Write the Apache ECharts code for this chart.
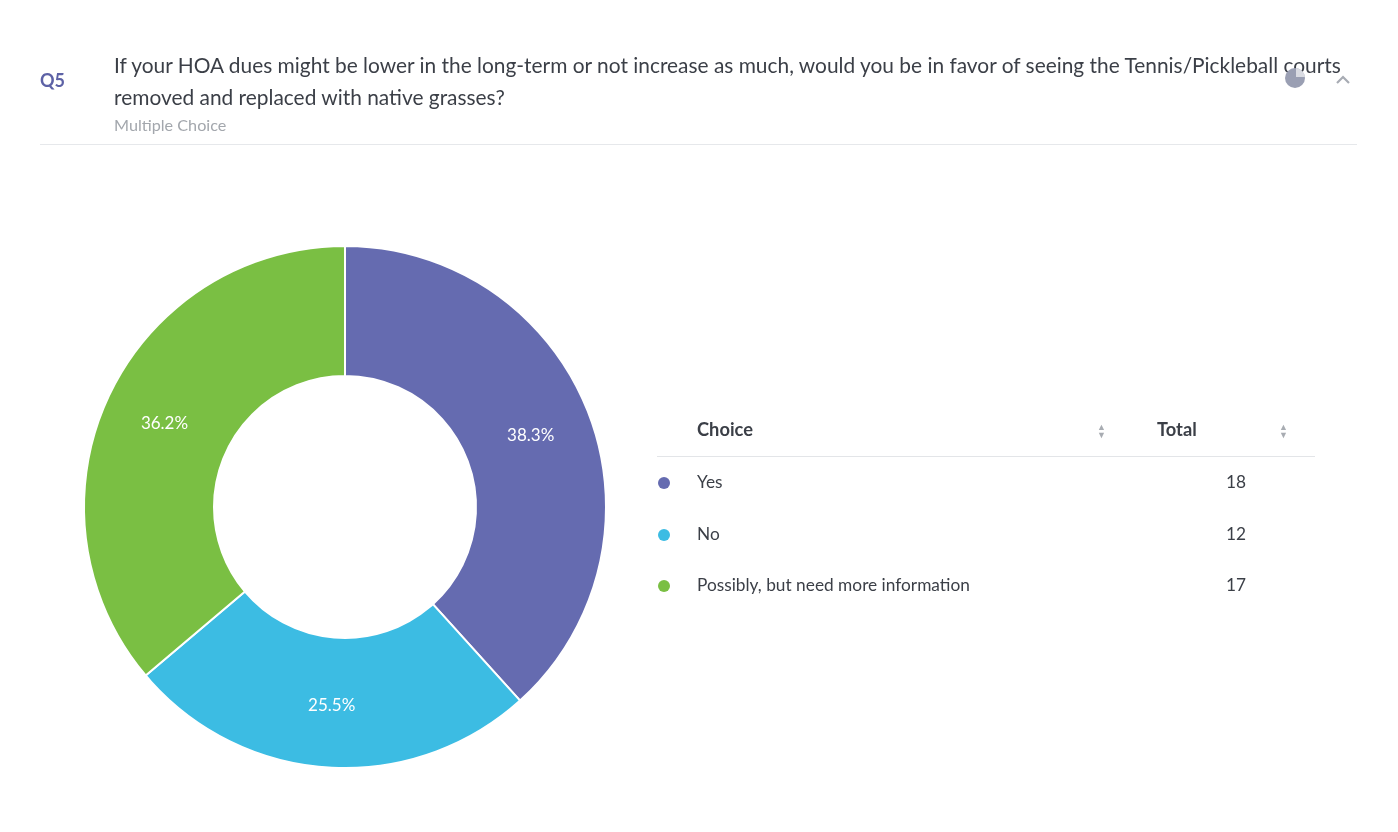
<!DOCTYPE html>
<html>
<head>
<meta charset="utf-8">
<script src="https://cdn.jsdelivr.net/npm/echarts@6/dist/echarts.min.js"></script>
<style>
html,body{margin:0;padding:0;background:#fff;font-family:Lato,"Open Sans",sans-serif;}
#page{position:relative;width:1398px;height:832px;overflow:hidden;}
#chart{position:absolute;left:0;top:0;width:1398px;height:832px;}
.abs{position:absolute;white-space:nowrap;}
#qnum{left:40px;top:69px;font-size:18px;color:#5d62a6;font-weight:bold;}
#qtext{left:114px;top:49px;font-size:20.9px;line-height:32px;color:#3b3f47;}
#qtype{left:114px;top:115px;font-size:16.2px;color:#a3a7ad;}
#divider{left:40px;top:144px;width:1317px;height:1px;background:#e6e8eb;}
#tbl{position:absolute;left:657px;top:410px;width:658px;}
.th{position:absolute;top:8px;font-size:18.3px;font-weight:bold;color:#3b3f47;}
.sort{position:absolute;top:13px;font-size:9px;line-height:8px;color:#a8acb2;}
#thline{position:absolute;left:0;top:46px;width:658px;height:1px;background:#e3e5e8;}
.row{position:absolute;left:0;width:658px;height:30px;}
.dot{position:absolute;left:1px;top:9px;width:12px;height:12px;border-radius:50%;}
.lbl{position:absolute;left:40px;top:3px;font-size:17.3px;color:#3b3f47;}
.val{position:absolute;left:540px;width:49px;top:3px;font-size:17.3px;color:#3b3f47;text-align:right;}
</style>
</head>
<body>
<div id="page">
  <div id="chart"></div>
  <div id="qnum" class="abs">Q5</div>
  <div id="qtext" class="abs">If your HOA dues might be lower in the long-term or not increase as much, would you be in favor of seeing the Tennis/Pickleball courts<br>removed and replaced with native grasses?</div>
  <div id="qtype" class="abs">Multiple Choice</div>
  <svg class="abs" style="left:1284px;top:67px" width="22" height="22" viewBox="0 0 22 22">
    <circle cx="11" cy="11" r="10" fill="#9a9fb3"/>
    <path d="M12 1 A10 10 0 0 1 21 10 L12 10 Z" fill="#d9dbe2"/>
  </svg>
  <svg class="abs" style="left:1335px;top:74px" width="16" height="12" viewBox="0 0 16 12">
    <polyline points="2,9 8,3 14,9" fill="none" stroke="#a8acb4" stroke-width="2.2"/>
  </svg>
  <div id="divider" class="abs"></div>
  <div id="tbl"></div>
</div>
<script>
// 数据
var choices = ['Yes', 'No', 'Possibly, but need more information'];
var totals = [18, 12, 17];
var colors = ['#656bb0', '#3cbce3', '#7abf43'];

// 右侧表格
function buildTable(){
	var html = '<div class="th" style="left:40px">Choice</div>' +
		'<div class="sort" style="left:440px">&#9650;<br>&#9660;</div>' +
		'<div class="th" style="left:500px">Total</div>' +
		'<div class="sort" style="left:622px">&#9650;<br>&#9660;</div>' +
		'<div id="thline"></div>';
	var rowTops = [58, 110, 161];
	for (var i = 0; i < choices.length; i++) {
		html += '<div class="row" style="top:' + rowTops[i] + 'px">' +
			'<div class="dot" style="background:' + colors[i] + '"></div>' +
			'<div class="lbl">' + choices[i] + '</div>' +
			'<div class="val">' + totals[i] + '</div></div>';
	}
	document.getElementById('tbl').innerHTML = html;
}

var pieChart = {
	init:function(){
		var data = [];
		for (var i = 0; i < choices.length; i++) {
			data.push({name: choices[i], value: totals[i], itemStyle: {color: colors[i]}});
		}
		var option = {
			animation: false,
			series: [{
				type: 'pie',
				center: [345, 507],
				radius: [131, 261],
				startAngle: 90,
				clockwise: true,
				itemStyle: {
					borderColor: '#fff',
					borderWidth: 2
				},
				label: {
					show: true,
					position: 'inside',
					color: '#fff',
					fontSize: 17,
					fontFamily: 'Lato',
					formatter: function(p){
						return p.percent.toFixed(1) + '%';
					}
				},
				labelLine: {show: false},
				emphasis: {disabled: true},
				data: data
			}]
		};
		var chart = echarts.init(document.getElementById('chart'));
		chart.setOption(option);
		return chart;
	}
};

buildTable();
pieChart.init();
</script>
</body>
</html>
